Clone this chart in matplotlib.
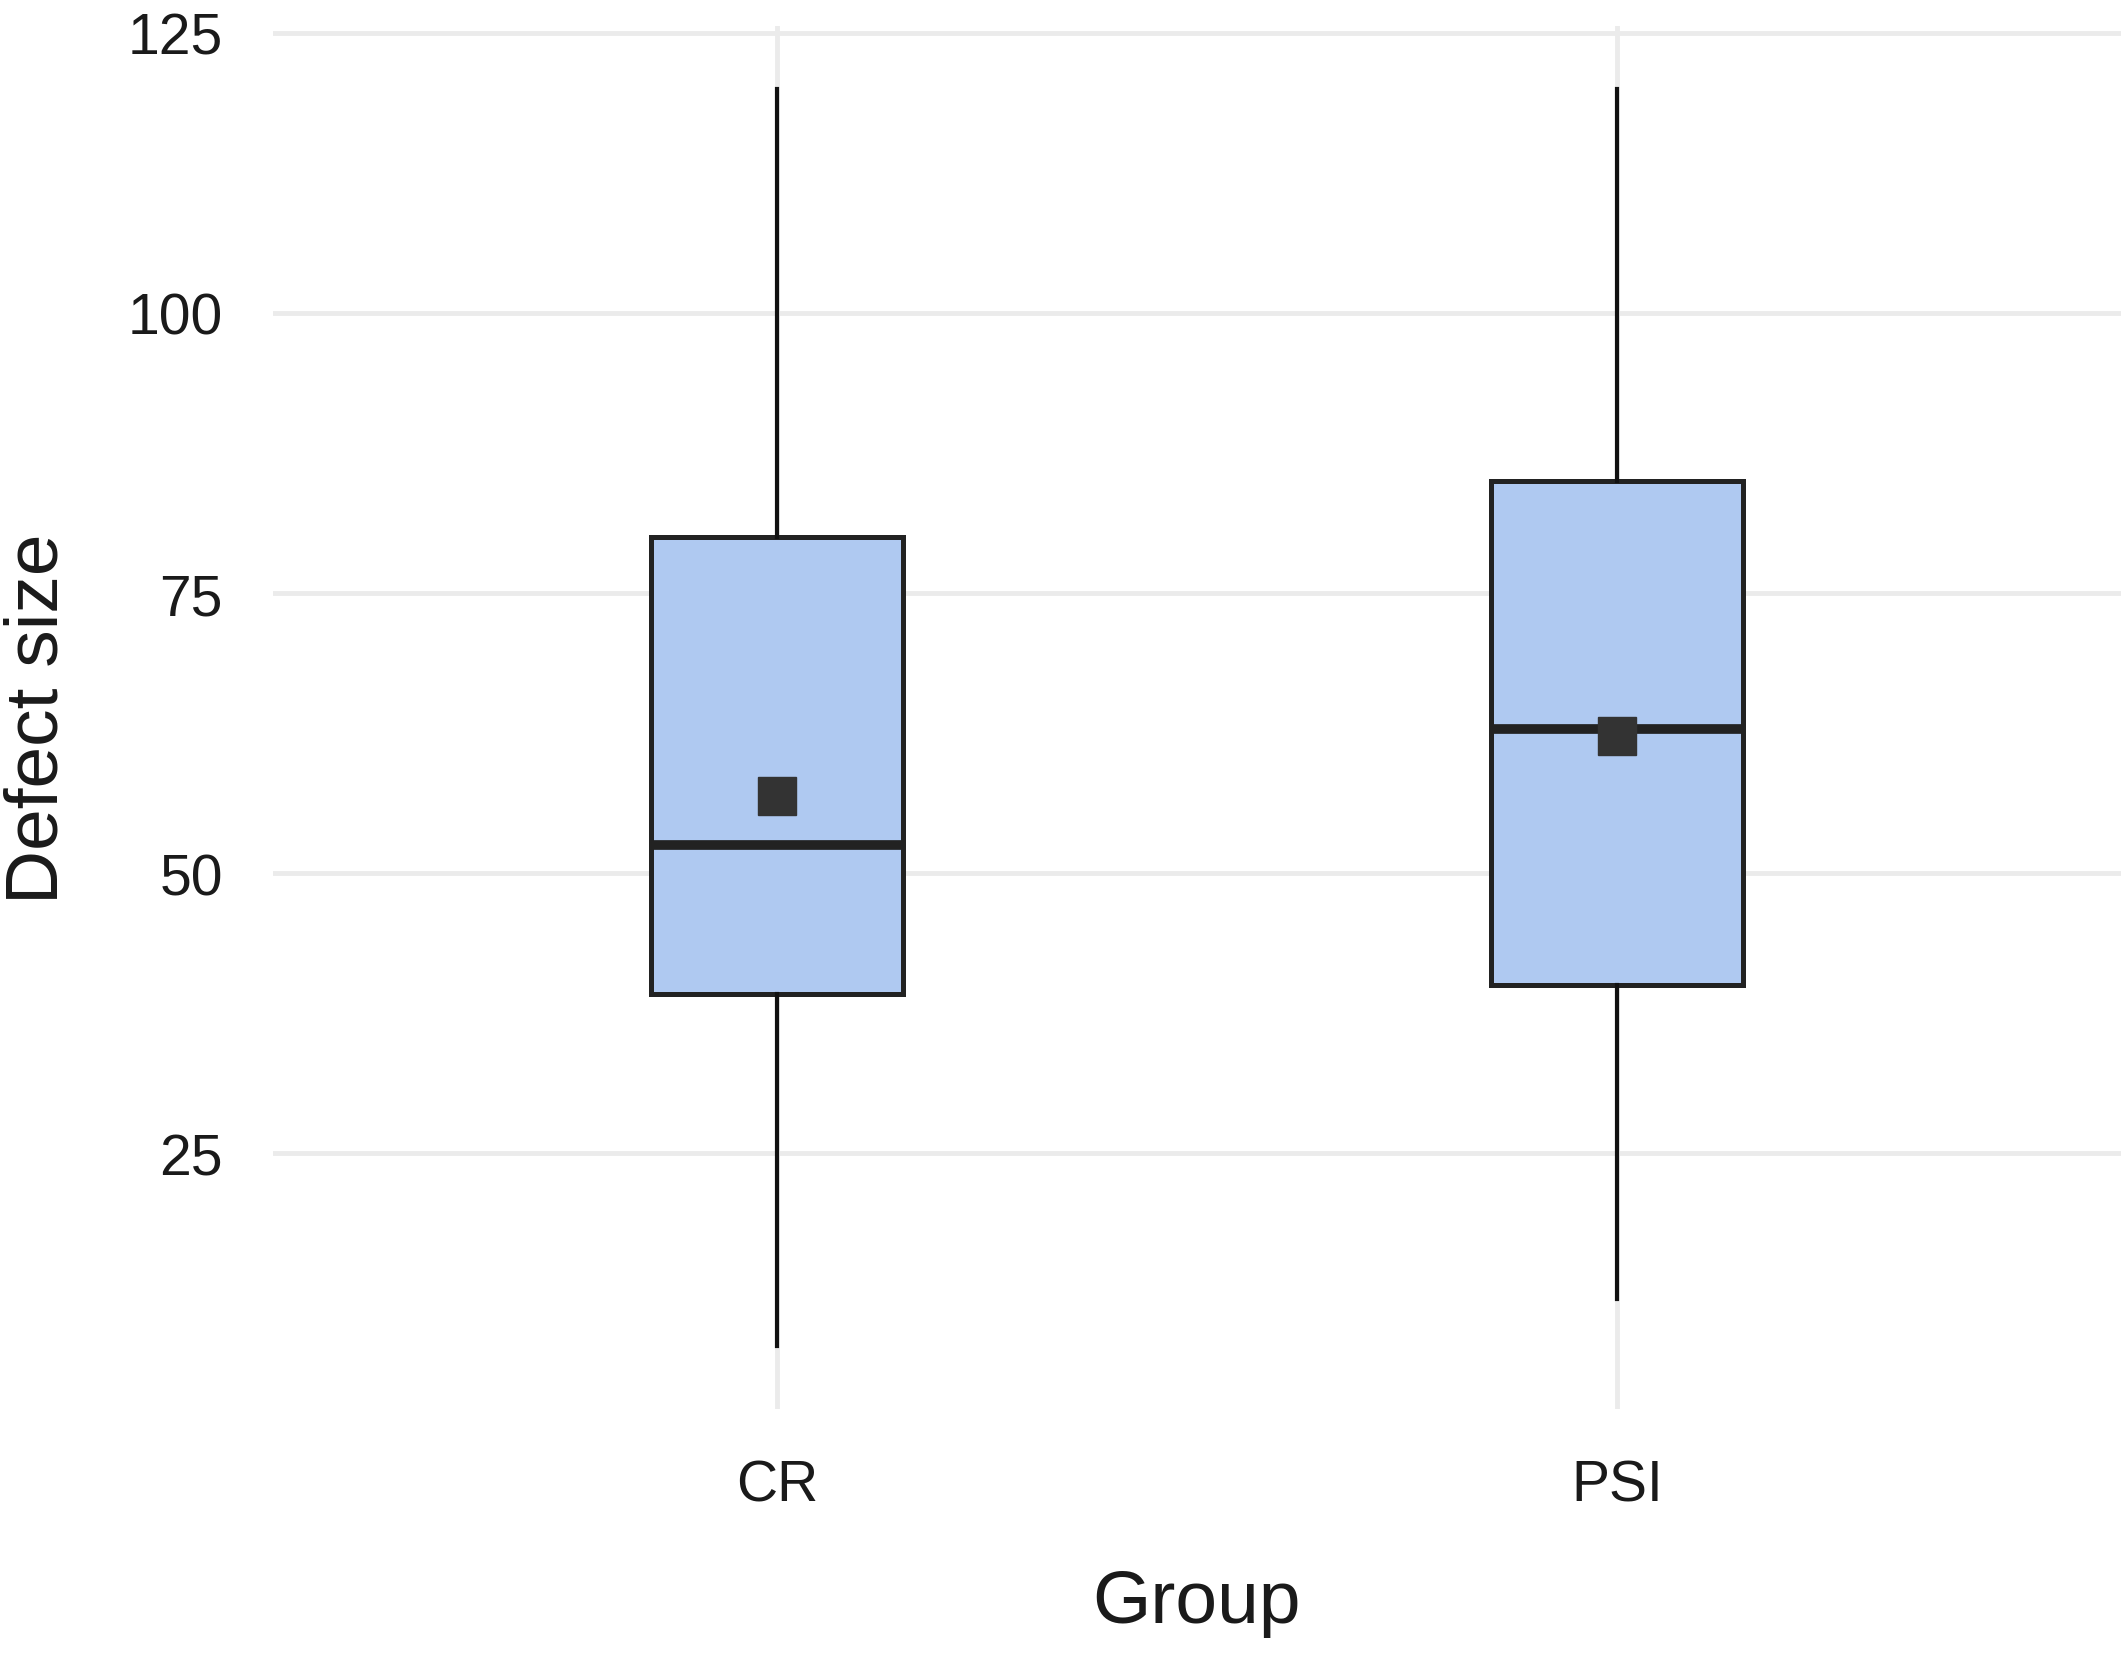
import matplotlib
matplotlib.use("Agg")
import matplotlib.pyplot as plt

groups = ["CR", "PSI"]
whisker_low = [7.8, 12.0]
q1 = [39.2, 40.0]
median = [52.5, 62.9]
q3 = [80.0, 85.0]
whisker_high = [120.0, 120.0]
mean = [56.9, 62.2]
y_ticks = [25, 50, 75, 100, 125]

plt.rcParams['font.family'] = ['Liberation Sans', 'DejaVu Sans']

fig = plt.figure(figsize=(21.26, 16.65), dpi=100)
ax = fig.add_axes([0.1284, 0.1532, 0.8692, 0.8306])

stats = []
for i, g in enumerate(groups):
    stats.append(dict(label=g, whislo=whisker_low[i], q1=q1[i], med=median[i],
                      q3=q3[i], whishi=whisker_high[i], mean=mean[i], fliers=[]))

positions = list(range(1, len(groups) + 1))
ax.bxp(stats, positions=positions, widths=0.3, patch_artist=True,
       showmeans=True, showcaps=False, showfliers=False,
       boxprops=dict(facecolor='#AFC9F1', edgecolor='#222222', linewidth=3.6),
       medianprops=dict(color='#222222', linewidth=7, solid_capstyle='butt'),
       whiskerprops=dict(color='#111111', linewidth=3),
       meanprops=dict(marker='s', markerfacecolor='#333333', markeredgecolor='#333333',
                      markersize=28))

ax.set_xlim(0.4, 2.6)
ax.set_ylim(2.2, 125.6)
ax.set_yticks(y_ticks)
ax.set_yticklabels([str(v) for v in y_ticks])
ax.set_xticks(positions)
ax.set_xticklabels(groups)
ax.tick_params(axis='both', length=0, labelsize=41, colors='#1a1a1a')
ax.tick_params(axis='y', pad=36)
ax.tick_params(axis='x', pad=36)
ax.grid(True, color='#EBEBEB', linewidth=3.5)
ax.set_axisbelow(True)
for s in ax.spines.values():
    s.set_visible(False)

ax.set_xlabel("Group", fontsize=54, color='#1a1a1a', labelpad=40)
ax.set_ylabel("Defect size", fontsize=54, color='#1a1a1a', labelpad=40)

fig.savefig("out.png", dpi=100, facecolor='white')
